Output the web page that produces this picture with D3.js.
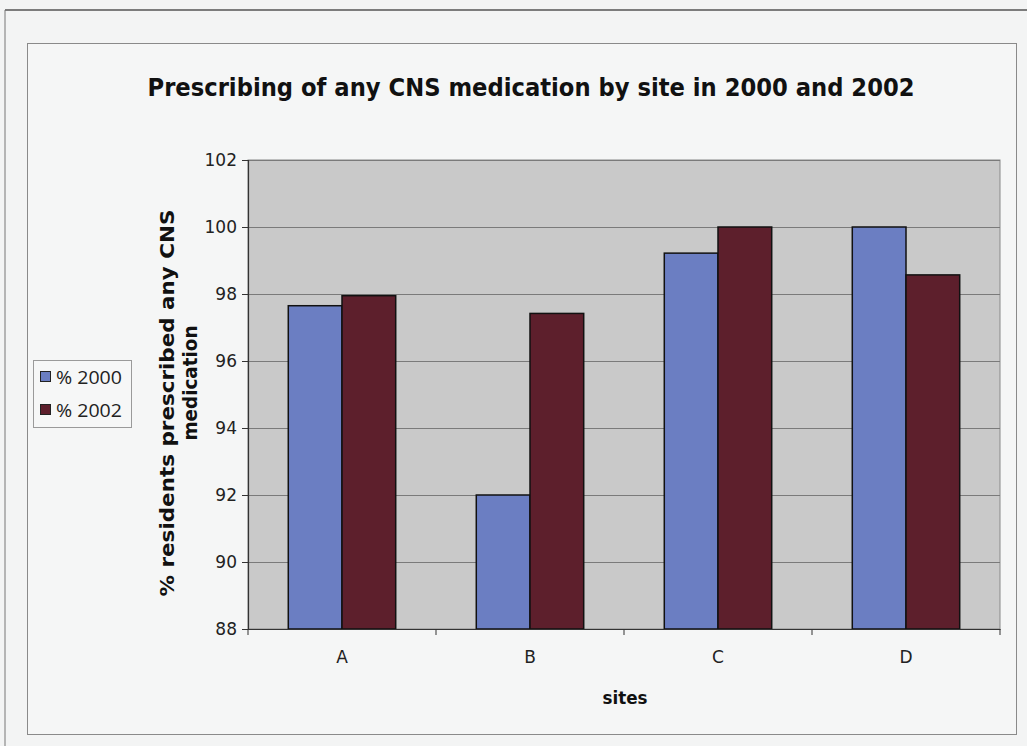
<!DOCTYPE html>
<html>
<head>
<meta charset="utf-8">
<script src="https://cdn.jsdelivr.net/npm/d3@7"></script>
<style>
html,body{margin:0;padding:0;background:#f3f4f4;}
svg{display:block;}
</style>
</head>
<body>
<svg id="chart" width="1027" height="746"></svg>
<script>
const categories = ["A", "B", "C", "D"];
const seriesNames = ["% 2000", "% 2002"];
const values2000 = [97.65, 92.0, 99.22, 100.0];
const values2002 = [97.95, 97.42, 100.0, 98.57];
const yTicks = [88, 90, 92, 94, 96, 98, 100, 102];
const colors = ["#6b7ec2", "#5d1f2c"];

const svg = d3.select("#chart");
const W = 1027, H = 746;
const FONT = "DejaVu Sans, Verdana, sans-serif";

// page frame lines
svg.append("rect").attr("x",0).attr("y",0).attr("width",W).attr("height",H).attr("fill","#f3f4f4");
svg.append("line").attr("x1",5).attr("x2",W).attr("y1",10).attr("y2",10).attr("stroke","#555").attr("stroke-width",1.5);
svg.append("line").attr("x1",5).attr("x2",5).attr("y1",10).attr("y2",H).attr("stroke","#777").attr("stroke-width",1);
// chart area border
svg.append("rect").attr("x",27.5).attr("y",43.5).attr("width",989).attr("height",691)
  .attr("fill","#f5f6f6").attr("stroke","#8a8a8a").attr("stroke-width",1);

const m = {left:248, top:160, right:1000, bottom:629};
const x = d3.scaleBand().domain(categories).range([m.left, m.right]).paddingInner(0).paddingOuter(0);
const y = d3.scaleLinear().domain([88, 102]).range([m.bottom, m.top]);
const inner = d3.scaleBand().domain(seriesNames).range([0, x.bandwidth()]).paddingInner(0).paddingOuter(0.75);

// plot background
svg.append("rect").attr("x",m.left).attr("y",m.top).attr("width",m.right-m.left).attr("height",m.bottom-m.top)
  .attr("fill","#c9c9c9").attr("stroke","#888").attr("stroke-width",1);

// gridlines
svg.append("g").selectAll("line").data(yTicks.slice(1)).join("line")
  .attr("x1",m.left).attr("x2",m.right)
  .attr("y1",d=>y(d)+0.5).attr("y2",d=>y(d)+0.5)
  .attr("stroke","#7a7a7a").attr("stroke-width",1);

// bars
const data = categories.map((c,i)=>({cat:c, vals:[values2000[i], values2002[i]]}));
const groups = svg.append("g").selectAll("g").data(data).join("g")
  .attr("transform", d=>`translate(${x(d.cat)},0)`);
groups.selectAll("rect").data(d=>d.vals.map((v,j)=>({v, s:seriesNames[j], j}))).join("rect")
  .attr("x", d=>inner(d.s))
  .attr("width", inner.bandwidth())
  .attr("y", d=>y(d.v))
  .attr("height", d=>y(88)-y(d.v))
  .attr("fill", d=>colors[d.j])
  .attr("stroke","#111").attr("stroke-width",1.5);

// y axis
const yAxis = svg.append("g").attr("transform",`translate(${m.left},0)`)
  .call(d3.axisLeft(y).tickValues(yTicks).tickSize(6).tickPadding(5).tickFormat(d3.format("d")));
yAxis.attr("font-size",null).attr("font-family",null);
yAxis.select(".domain").attr("stroke","#333").attr("stroke-width",1.2);
yAxis.selectAll(".tick line").attr("stroke","#333");
yAxis.selectAll("text").style("font-family",FONT).style("font-size","17px").attr("fill","#222");

// x axis
const xAxis = svg.append("g").attr("transform",`translate(0,${m.bottom})`)
  .call(d3.axisBottom(x).tickSize(0).tickPadding(22));
xAxis.attr("font-size",null).attr("font-family",null);
xAxis.select(".domain").attr("stroke","#333").attr("stroke-width",1.2);
xAxis.selectAll("text").style("font-family",FONT).style("font-size","17px").attr("fill","#222");
// category boundary ticks
svg.append("g").selectAll("line").data(d3.range(categories.length+1)).join("line")
  .attr("x1",i=>m.left + i*x.bandwidth()).attr("x2",i=>m.left + i*x.bandwidth())
  .attr("y1",m.bottom).attr("y2",m.bottom+6).attr("stroke","#333");

// title
svg.append("text").attr("x",531).attr("y",96).attr("text-anchor","middle")
  .style("font-family",FONT).attr("font-weight","bold").style("font-size","25px")
  .attr("textLength",767).attr("lengthAdjust","spacingAndGlyphs").attr("fill","#111")
  .text("Prescribing of any CNS medication by site in 2000 and 2002");

// x title
svg.append("text").attr("x",625).attr("y",704).attr("text-anchor","middle")
  .style("font-family",FONT).attr("font-weight","bold").style("font-size","18px")
  .attr("textLength",45).attr("lengthAdjust","spacingAndGlyphs").attr("fill","#111")
  .text("sites");

// y title
svg.append("text").attr("transform","translate(174,403) rotate(-90)").attr("text-anchor","middle")
  .style("font-family",FONT).attr("font-weight","bold").style("font-size","19px")
  .attr("textLength",387).attr("lengthAdjust","spacingAndGlyphs")
  .attr("fill","#111").text("% residents prescribed any CNS");
svg.append("text").attr("transform","translate(197,383) rotate(-90)").attr("text-anchor","middle")
  .style("font-family",FONT).attr("font-weight","bold").style("font-size","19px")
  .attr("textLength",115).attr("lengthAdjust","spacingAndGlyphs")
  .attr("fill","#111").text("medication");

// legend
const lg = svg.append("g");
lg.append("rect").attr("x",33.5).attr("y",360.5).attr("width",98).attr("height",67)
  .attr("fill","#f6f7f7").attr("stroke","#9a9a9a").attr("stroke-width",1);
const li = lg.selectAll("g").data(seriesNames).join("g")
  .attr("transform",(d,i)=>`translate(40,${371 + i*33})`);
li.append("rect").attr("x",0.5).attr("y",0.5).attr("width",10).attr("height",10)
  .attr("fill",(d,i)=>colors[i]).attr("stroke","#222").attr("stroke-width",1);
li.append("text").attr("x",16).attr("y",13).style("font-family","Open Sans, sans-serif").style("font-size","19px")
  .attr("textLength",66).attr("lengthAdjust","spacingAndGlyphs")
  .attr("fill","#222").text(d=>d);
</script>
</body>
</html>
